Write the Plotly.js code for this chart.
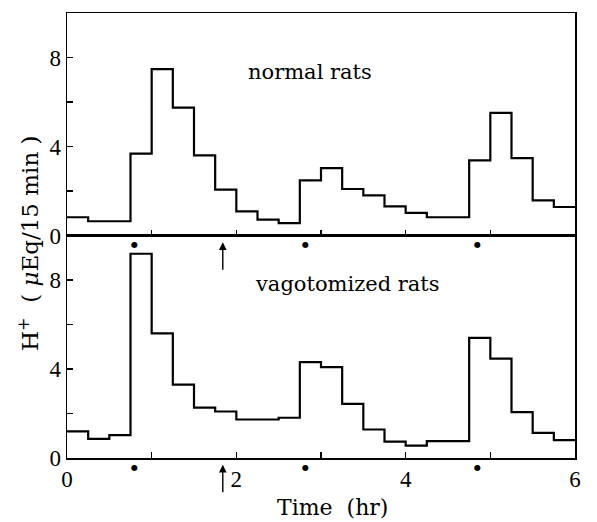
<!DOCTYPE html>
<html>
<head>
<meta charset="utf-8">
<script src="https://cdn.plot.ly/plotly-3.0.1.min.js"></script>
<style>html,body{margin:0;padding:0;background:#fff;}#chart{width:597px;height:522px;}</style>
</head>
<body>
<div id="chart"></div>
<script>
// 15-min collection periods (hr), bin edges
const binEdges = [0, 0.25, 0.5, 0.75, 1, 1.25, 1.5, 1.75, 2, 2.25, 2.5, 2.75, 3,
                  3.25, 3.5, 3.75, 4, 4.25, 4.5, 4.75, 5, 5.25, 5.5, 5.75, 6];
// H+ output (µEq/15 min)
const normalRats = [0.82, 0.64, 0.64, 3.68, 7.48, 5.75, 3.60, 2.06, 1.08, 0.71, 0.56, 2.48,
                    3.03, 2.09, 1.80, 1.31, 1.02, 0.82, 0.82, 3.38, 5.51, 3.48, 1.58, 1.28];
const vagotomizedRats = [1.20, 0.86, 1.03, 9.18, 5.60, 3.30, 2.26, 2.09, 1.73, 1.73, 1.81, 4.31,
                         4.08, 2.43, 1.28, 0.74, 0.56, 0.76, 0.76, 5.40, 4.47, 2.06, 1.13, 0.80];
// event markers (hr)
const mealTimes = [0.8, 2.82, 4.85];
const arrowTime = 1.84;
// tick labels
const xTickVals = [0, 2, 4, 6];
const xTickText = ['0', '2', '4', '6'];
const yTickVals = [0, 4, 8];
const yTickText = ['0', '4', '8'];

const serif = 'DejaVu Serif, serif';
const tickFont = {family: 'Liberation Serif, serif', size: 23, color: '#000'};
const stepY = v => v.concat([v[v.length - 1]]);
const NB = '\u00A0';

const traces = [
  {x: binEdges, y: stepY(normalRats), xaxis: 'x2', yaxis: 'y2', mode: 'lines',
   line: {shape: 'hv', color: '#000', width: 2.2}, name: 'normal rats', hoverinfo: 'skip'},
  {x: binEdges, y: stepY(vagotomizedRats), xaxis: 'x', yaxis: 'y', mode: 'lines',
   line: {shape: 'hv', color: '#000', width: 2.2}, name: 'vagotomized rats', hoverinfo: 'skip'}
];

const axisCommon = {
  showline: true, linecolor: '#000', linewidth: 1.5, mirror: true,
  ticks: 'inside', ticklen: 6, tickwidth: 1.2, tickcolor: '#000',
  showgrid: false, zeroline: false, tickfont: tickFont
};
const xMinor = {dtick: 1, ticks: 'inside', ticklen: 6, tickwidth: 1.2, tickcolor: '#000', showgrid: false};
const yMinor = {dtick: 2, ticks: 'inside', ticklen: 6, tickwidth: 1.2, tickcolor: '#000', showgrid: false};

const annotations = [
  {text: 'normal rats', xref: 'x2', yref: 'y2', x: 2.87, y: 7.34, showarrow: false,
   font: {family: serif, size: 21, color: '#000'}},
  {text: 'vagotomized rats', xref: 'x', yref: 'y', x: 3.31, y: 7.8, showarrow: false,
   font: {family: serif, size: 21, color: '#000'}},
  {text: 'H<sup>+</sup>' + NB + NB + '(' + NB + '<i>μ</i>Eq/15' + NB + 'min' + NB + ')',
   xref: 'paper', yref: 'paper',
   x: -0.075, y: 0.483, xanchor: 'center', yanchor: 'middle', textangle: -90, showarrow: false,
   font: {family: serif, size: 23, color: '#000'}},
  {text: 'Time' + NB + NB + '(hr)', xref: 'x', yref: 'paper', x: 3.14, y: -0.112,
   xanchor: 'center', yanchor: 'middle', showarrow: false,
   font: {family: serif, size: 22, color: '#000'}}
];
['y2 domain', 'y domain'].forEach(function (yr, i) {
  const xr = i === 0 ? 'x2' : 'x';
  mealTimes.forEach(function (t) {
    annotations.push({text: '●', xref: xr, yref: yr, x: t, y: -0.042,
      xanchor: 'center', yanchor: 'middle', showarrow: false,
      font: {family: 'DejaVu Sans, sans-serif', size: 8, color: '#000'}});
  });
  annotations.push({text: NB, xref: xr, yref: yr, x: arrowTime, y: -0.03,
    ax: 0, ay: 30, showarrow: true, arrowhead: 2, arrowsize: 1.1, arrowwidth: 1.4,
    arrowcolor: '#000', standoff: 0, startstandoff: 0,
    font: {family: serif, size: 2, color: '#000'}});
});

const layout = {
  width: 597, height: 522,
  margin: {l: 67, r: 22, t: 13, b: 64},
  paper_bgcolor: '#fff', plot_bgcolor: '#fff',
  showlegend: false,
  xaxis: Object.assign({}, axisCommon, {
    domain: [0, 1], anchor: 'y', range: [0, 6],
    tickmode: 'array', tickvals: xTickVals, ticktext: xTickText, minor: xMinor
  }),
  xaxis2: Object.assign({}, axisCommon, {
    domain: [0, 1], anchor: 'y2', range: [0, 6], matches: 'x',
    tickmode: 'array', tickvals: xTickVals, showticklabels: false, minor: xMinor
  }),
  yaxis: Object.assign({}, axisCommon, {
    domain: [0, 0.5], anchor: 'x', range: [0, 10],
    tickmode: 'array', tickvals: yTickVals, ticktext: yTickText, minor: yMinor
  }),
  yaxis2: Object.assign({}, axisCommon, {
    domain: [0.5, 1], anchor: 'x2', range: [0, 10],
    tickmode: 'array', tickvals: yTickVals, ticktext: yTickText, minor: yMinor
  }),
  annotations: annotations
};

Plotly.newPlot('chart', traces, layout, {staticPlot: true, displayModeBar: false});
</script>
</body>
</html>
